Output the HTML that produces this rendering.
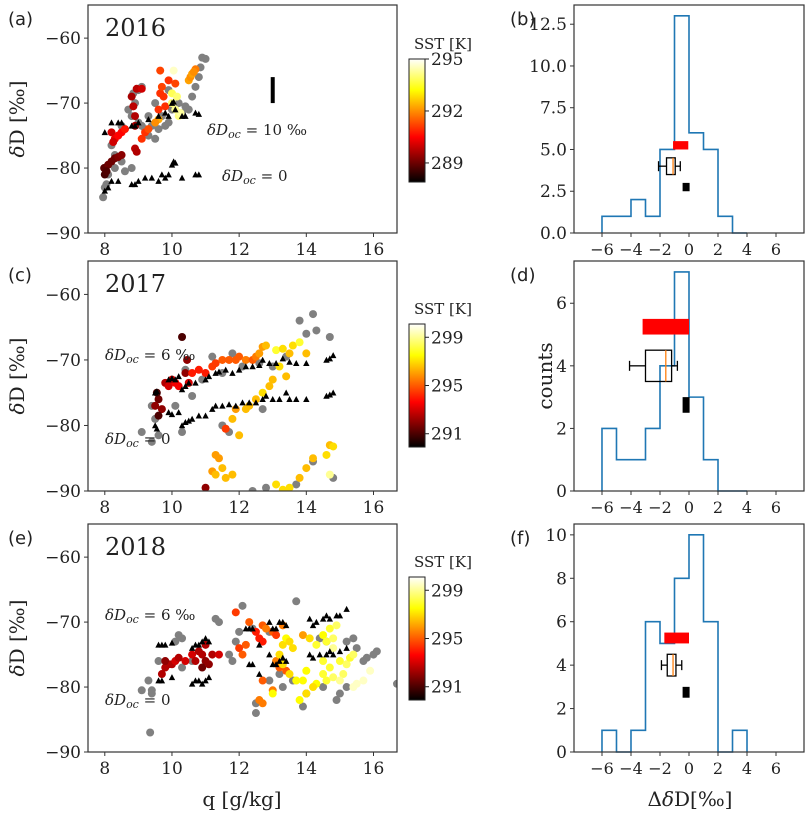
<!DOCTYPE html>
<html><head><meta charset="utf-8"><style>
html,body{margin:0;padding:0;background:#fff;}
svg{display:block;}
text{font-family:"DejaVu Serif","Liberation Serif",serif;fill:#222;}
.lab{font-family:"DejaVu Sans","Liberation Sans",sans-serif;}
</style></head><body>
<svg id="fig" xmlns="http://www.w3.org/2000/svg" width="806" height="817" viewBox="0 0 806 817">
<defs>
<linearGradient id="hot" x1="0" y1="1" x2="0" y2="0">
<stop offset="0" stop-color="#000"/><stop offset="0.365" stop-color="#f00"/><stop offset="0.746" stop-color="#ff0"/><stop offset="1" stop-color="#fff"/>
</linearGradient>
</defs>
</svg>
<script>
// ---------- data ----------
const qTicks=[8,10,12,14,16];
const dTicks=[-60,-70,-80,-90];
const histXTicks=[-6,-4,-2,0,2,4,6];
const binEdges=[-6,-5,-4,-3,-2,-1,0,1,2,3,4];
const countsB=[1,1,2,1,5,13,6,5,1,0];
const countsD=[2,1,1,2,4,7,3,1,0,0];
const countsF=[1,0,1,6,5,8,10,6,0,1];
const yTicksB=[0,2.5,5,7.5,10,12.5];
const yTicksD=[0,2,4,6];
const yTicksF=[0,2,4,6,8,10];
const redBarB=[-1.1,-0.05], redBarD=[-3.2,0], redBarF=[-1.7,0];
const boxB=[-2.1,-1.55,-1.1,-0.95,-0.6];
const boxD=[-4.1,-3.0,-1.6,-1.2,-0.8];
const boxF=[-1.9,-1.5,-1.1,-0.9,-0.5];
const blackMarkB=-0.2, blackMarkD=-0.2, blackMarkF=-0.2;

const gray2016=[[7.95,-84.5],[8.0,-83],[8.05,-82.5],[8.1,-81],[8.3,-80],[8.5,-79],[8.6,-80.5],[8.8,-80],[8.2,-76.5],[8.4,-75],[8.6,-74],[8.8,-72],[8.9,-70],[8.85,-68.5],[9.0,-68],[9.1,-67.5],[9.0,-73],[9.2,-74],[9.3,-75],[9.5,-75.5],[9.6,-74],[9.8,-73.5],[9.9,-73],[9.7,-72],[10.0,-71],[10.2,-70],[10.3,-71.5],[10.5,-71],[10.6,-69],[10.7,-67.5],[10.8,-66],[10.85,-64.5],[10.9,-63],[11.0,-63.2],[9.9,-68],[9.5,-70],[9.3,-72],[8.5,-73.5],[8.3,-78],[8.0,-80],[8.7,-71],[9.1,-73.5],[9.4,-73.5],[10.4,-70.5]];
const obs2016=[[7.98,-80,288.8],[8.0,-81,288.6],[8.1,-79.5,289],[8.2,-79,289],[8.3,-78.5,289],[8.4,-78.3,289.2],[8.5,-78,289.3],[8.05,-80.5,288.7],[8.2,-74.5,290],[8.3,-75.5,290.3],[8.4,-75,290.5],[8.5,-74.5,290.5],[8.6,-74,290.7],[8.25,-76,290],[8.8,-69,289.6],[8.85,-70.5,289.8],[8.9,-72,289.7],[8.9,-73.5,289.6],[8.95,-67.8,289.8],[9.1,-67.8,290],[8.9,-77,289.8],[8.95,-77.5,289.7],[9.1,-75.5,291],[9.2,-74.5,291],[9.3,-74,291.3],[9.6,-71,291],[9.65,-68.5,291],[9.7,-67.5,291.2],[9.75,-69,291],[9.8,-70.5,291],[9.65,-65,291.2],[9.9,-66.5,291],[10.1,-67,291.2],[10.0,-68.5,293.8],[10.05,-65,294.6],[10.0,-70,294],[10.1,-71,294.2],[10.2,-72,294.1],[10.25,-71.5,294.3],[10.15,-69,294],[10.5,-66.5,292.2],[10.55,-66,292],[10.6,-65.5,292.2],[10.7,-64.8,291.8],[10.65,-65.2,292],[9.6,-72.5,292.3],[9.5,-73,292]];
const tri2016=[[8.0,-74.5],[8.2,-73],[8.4,-73],[8.5,-73],[8.8,-73.5],[8.9,-73.5],[9.0,-73],[9.3,-72.5],[9.6,-72],[9.8,-71.5],[9.9,-72],[10.0,-70],[10.05,-69.8],[10.1,-71],[10.3,-72],[10.4,-72],[10.7,-71.5],[10.8,-71.7],[8.0,-83.5],[8.1,-83],[8.2,-82],[8.4,-82],[8.8,-82.5],[8.9,-82.5],[9.0,-82],[9.2,-81.5],[9.4,-81.5],[9.6,-82],[9.7,-81],[9.8,-81.5],[9.9,-81],[10.0,-79.5],[10.05,-79],[10.1,-79.2],[10.3,-81.5],[10.7,-81],[10.8,-81]];

const gray2017=[[9.1,-81],[9.4,-77],[9.5,-79],[9.4,-82.5],[9.6,-81.5],[10.3,-81],[10.1,-77],[10.4,-71.5],[10.6,-75.5],[10.9,-73],[11.2,-69.5],[11.5,-72],[11.8,-69],[12.1,-71],[12.6,-70.5],[13.0,-71],[13.4,-69.5],[13.8,-64],[14.2,-63],[14.0,-66],[14.3,-65.5],[14.7,-66.5],[14.8,-88],[14.2,-85.5],[13.7,-89],[12.8,-89.5],[12.4,-90],[11.7,-81],[12.7,-77.5],[11.5,-80]];
const obs2017=[[9.6,-76,291.5],[9.5,-77,292],[9.7,-77.5,292],[9.6,-78.5,291],[9.55,-75,291],[9.8,-73.5,292.5],[9.9,-74,293],[10.0,-73,293],[10.1,-73.5,293.5],[10.2,-74,293.5],[10.3,-66.5,291],[10.45,-70,292],[10.4,-72,292],[10.5,-73.5,293],[10.6,-72,294],[10.8,-71.5,294],[11.0,-72,294],[11.2,-71,294.5],[11.3,-70.5,294.5],[11.5,-70,295],[11.7,-70,295],[11.9,-70,295],[12.0,-69.5,295],[12.2,-70,295.5],[12.4,-70,295],[12.5,-69.5,295.5],[12.6,-69,296],[12.7,-68,296],[12.8,-67.8,296.5],[13.1,-68.5,298],[13.3,-68.3,297],[13.5,-69,296.5],[13.6,-67.8,297],[13.8,-67.3,298],[14.0,-69,296.5],[13.2,-71,297],[13.4,-72.5,296.5],[13.0,-73,296.5],[12.9,-74,296.5],[12.7,-75,297],[12.5,-76,296.5],[12.3,-77,296.5],[12.2,-77.5,296.5],[11.9,-77.5,296],[11.8,-79,296.5],[11.6,-80.5,294.5],[12.0,-81.5,296.5],[11.3,-84.5,296],[11.4,-85,296],[11.2,-87,296],[11.3,-87.5,296.5],[11.5,-86.5,296.5],[11.6,-88,296.5],[11.8,-87.5,296.5],[11.0,-89.5,292],[13.1,-89,297],[13.3,-89.8,297],[13.5,-89.5,297],[13.8,-88,296.5],[14.0,-86.5,296.5],[14.2,-85,296.5],[14.6,-84.5,297],[14.7,-83,296.5],[14.8,-83.2,297],[14.7,-87.5,299]];
const tri2017=[[9.5,-75],[9.55,-74.8],[9.9,-73],[10.0,-72.8],[10.1,-73],[10.2,-72.5],[10.3,-74.5],[10.4,-74],[10.5,-73.5],[10.7,-73.5],[11.0,-73],[11.1,-72.5],[11.3,-72],[11.4,-71.8],[11.6,-71.5],[11.8,-72],[12.0,-71.5],[12.2,-71],[12.4,-71],[12.6,-70.8],[12.7,-70],[12.9,-70.5],[13.1,-70.5],[13.3,-69.8],[13.5,-70.3],[13.7,-70.5],[14.0,-70.5],[14.6,-70],[14.7,-69.8],[14.8,-69.3],[9.5,-80],[9.55,-80.5],[9.9,-78],[10.0,-78.3],[10.2,-78],[10.3,-80],[10.4,-79.5],[10.5,-79.3],[10.6,-79],[10.8,-78.5],[11.0,-78.5],[11.2,-77.5],[11.3,-77],[11.5,-77],[11.7,-76.8],[11.9,-77],[12.1,-76.5],[12.3,-76.5],[12.5,-76.5],[12.7,-76],[12.8,-75.5],[13.0,-76],[13.2,-76],[13.4,-75],[13.5,-76],[13.7,-76],[14.0,-76],[14.6,-75.5],[14.7,-75.3],[14.8,-75]];

const gray2018=[[9.1,-80.5],[9.3,-79],[9.4,-80.5],[9.4,-81],[9.35,-87],[9.6,-76],[10.2,-72],[10.3,-72.5],[10.1,-73],[10.6,-76],[10.3,-77],[11.3,-69.5],[11.4,-70],[11.7,-75],[11.9,-73],[11.8,-76],[12.1,-67.5],[12.0,-71.5],[12.4,-71],[12.9,-71.5],[13.3,-80],[12.5,-84],[12.5,-82.5],[12.9,-79],[13.2,-78],[13.7,-66.8],[13.6,-79],[13.9,-83],[14.0,-81],[14.4,-72.5],[14.6,-73],[15.0,-81],[14.5,-80],[15.2,-73],[15.4,-72.5],[15.5,-74],[15.7,-76],[15.8,-75.5],[16.0,-75],[16.1,-74.5],[16.7,-79.5],[14.9,-82],[15.2,-80]];
const obs2018=[[9.7,-78,292.5],[9.8,-77,292.5],[9.9,-76.5,292.5],[9.8,-76,292],[10.0,-76.5,292.5],[10.1,-76,293],[10.2,-75.5,292.5],[10.4,-76,293],[10.6,-75,293],[10.8,-74.5,292.5],[10.9,-75,292.5],[11.0,-76,292],[10.9,-77,291.5],[11.1,-76.5,292],[11.2,-75,292.5],[11.4,-75,293],[10.7,-76,292.5],[11.0,-73.5,292.5],[12.0,-74,294.5],[12.2,-73.5,295],[12.1,-75,295],[12.3,-70,295],[11.9,-68.5,294.5],[12.5,-71.5,294],[12.7,-73,294],[12.6,-72.5,294],[12.7,-70.5,295],[12.8,-71,295.5],[13.0,-71.5,295],[13.1,-72,294.5],[13.3,-70.5,295.5],[12.7,-79,295],[12.6,-82,295.5],[12.7,-82.5,295.5],[13.0,-80.5,295.5],[13.2,-77,295],[13.4,-77.5,295],[13.1,-76,295.5],[13.2,-75,297],[13.3,-73.5,297],[13.4,-72.5,297.5],[13.5,-73,297],[13.6,-74,297],[13.3,-76.5,297],[13.5,-78,297],[13.7,-79,297.5],[13.0,-81,297.5],[13.9,-79,297.5],[14.0,-77.5,297.5],[14.3,-79.5,297.5],[14.0,-81,297],[14.2,-80,297],[13.8,-82,297.5],[13.9,-72,296],[14.1,-72.5,297],[14.3,-73.5,298],[14.5,-72,297.5],[14.6,-73,298],[14.7,-71,298],[14.9,-70.5,298.5],[14.8,-72.5,298.5],[14.5,-76,298],[14.7,-77,298],[14.5,-78,298],[14.6,-79,298],[14.8,-78.5,298.5],[15.0,-76,298],[15.2,-76.5,298.5],[15.3,-75.5,298],[15.4,-75,298.5],[15.1,-78,298.5],[15.0,-79,299],[15.4,-80,299.5],[15.5,-79.5,299.5],[15.7,-79,299.5],[15.9,-77.5,299.5],[14.8,-74,299]];
const tri2018=[[9.6,-73.5],[9.7,-73.5],[9.8,-73.5],[10.0,-73.2],[9.6,-79],[9.7,-79],[10.0,-78.5],[10.6,-74],[10.7,-73.5],[10.8,-73.5],[10.9,-73],[11.0,-72.5],[11.1,-73],[10.6,-79.5],[10.7,-79],[10.8,-79],[10.9,-79.5],[11.0,-79],[11.1,-78.5],[12.2,-71],[12.3,-71],[12.4,-71],[12.3,-76.5],[12.4,-76.5],[12.6,-73.5],[12.6,-78],[12.9,-70],[13.0,-71],[13.1,-71],[13.2,-70],[13.3,-70],[13.4,-70.5],[12.9,-75],[13.0,-76.5],[13.1,-76.5],[13.2,-76],[13.3,-75.5],[13.4,-76],[14.1,-69.5],[14.2,-70.5],[14.3,-70],[14.5,-69.5],[14.6,-69],[14.7,-69.5],[14.9,-69],[15.0,-69],[15.2,-68],[14.1,-75],[14.2,-75.5],[14.4,-75],[14.6,-75],[14.7,-74.5],[14.8,-75],[15.0,-74.5],[15.2,-74]];

const sstTicks2016=[289,292,295], sstRange2016=[287.9,295.0];
const sstTicks1718=[291,295,299], sstRange1718=[289.9,300.1];

// ---------- helpers ----------
const NS='http://www.w3.org/2000/svg';
const svg=document.getElementById('fig');
function mk(tag,attrs,parent,txt){const e=document.createElementNS(NS,tag);for(const k in attrs)e.setAttribute(k,attrs[k]);if(txt!==undefined)e.textContent=txt;(parent||svg).appendChild(e);return e;}
function lin(d0,d1,r0,r1){return v=>r0+(v-d0)*(r1-r0)/(d1-d0);}
function hot(t){t=Math.max(0,Math.min(1,t));const r=Math.min(1,t/0.365),g=Math.max(0,Math.min(1,(t-0.365)/0.381)),b=Math.max(0,Math.min(1,(t-0.746)/0.254));return `rgb(${Math.round(r*255)},${Math.round(g*255)},${Math.round(b*255)})`;}

const rows=[{top:5,bot:233},{top:261,bot:491},{top:524,bot:752}];
const SX0=88,SX1=397,HX0=574,HX1=804;

function scatterPanel(ri,letter,year,gray,obs,tri,sstR,sstT,texts,showXLabel){
  const r=rows[ri];
  const g=mk('g',{},svg);
  
  
  const x=lin(7.5,16.7,SX0,SX1), y=lin(-90,-54.9,r.bot,r.top);
  mk('defs',{},g).innerHTML=`<clipPath id="clip${ri}"><rect x="${SX0}" y="${r.top}" width="${SX1-SX0}" height="${r.bot-r.top}"/></clipPath>`;
  const pg=mk('g',{'clip-path':`url(#clip${ri})`},g);
  gray.forEach(p=>{const c=mk('circle',{cx:x(p[0]),cy:y(p[1]),r:4,fill:'#808080'},pg);
    
    });
  obs.forEach(p=>{const c=mk('circle',{cx:x(p[0]),cy:y(p[1]),r:4,fill:hot((p[2]-sstR[0])/(sstR[1]-sstR[0]))},pg);
    
    });
  tri.forEach(p=>{const cx=x(p[0]),cy=y(p[1]);const t=mk('polygon',{points:`${cx-3.2},${cy+2.8} ${cx+3.2},${cy+2.8} ${cx},${cy-3.2}`,fill:'#000'},pg);
    
    });
  mk('rect',{x:SX0,y:r.top,width:SX1-SX0,height:r.bot-r.top,fill:'none',stroke:'#333','stroke-width':1.2},g);
  qTicks.forEach(v=>{mk('line',{x1:x(v),x2:x(v),y1:r.bot,y2:r.bot+4,stroke:'#333'},g);
    const t=mk('text',{x:x(v),y:r.bot+22,'text-anchor':'middle','font-size':17},g,String(v));
    
    });
  dTicks.forEach(v=>{mk('line',{x1:SX0-4,x2:SX0,y1:y(v),y2:y(v),stroke:'#333'},g);
    const t=mk('text',{x:SX0-7,y:y(v)+6,'text-anchor':'end','font-size':17},g,'\u2212'+Math.abs(v));
    
    });
  const yl=mk('text',{x:0,y:0,transform:`translate(24,${(r.top+r.bot)/2}) rotate(-90)`,'text-anchor':'middle','font-size':20},g);
  yl.innerHTML='<tspan font-style="italic">δ</tspan>D [‰]';
  
  
  const pl=mk('text',{x:8,y:r.top+20,'font-size':18,class:'lab'},g,`(${letter})`);
  
  
  const yt=mk('text',{x:105,y:r.top+31,'font-size':24},g,String(year));
  
  
  texts.forEach(tt=>{const t=mk('text',{x:tt[0],y:tt[1],'font-size':15},g);
    t.innerHTML=`<tspan font-style="italic">δD</tspan><tspan font-style="italic" font-size="11" dy="3">oc</tspan><tspan dy="-3"> = ${tt[2]}</tspan>`;
    
    });
  const cy0=[59,324,577][ri], cy1=[182,447,700][ri];
  const cb=mk('g',{},g);
  
  
  mk('rect',{x:409,y:cy0,width:16,height:cy1-cy0,fill:'url(#hot)',stroke:'#222','stroke-width':1},cb);
  const cs=lin(sstR[0],sstR[1],cy1,cy0);
  sstT.forEach(v=>{mk('line',{x1:425,x2:429,y1:cs(v),y2:cs(v),stroke:'#222'},cb);
    const t=mk('text',{x:431,y:cs(v)+6,'font-size':17},cb,String(v));
    
    });
  const ct=mk('text',{x:414,y:cy0-10,'font-size':15},cb,'SST [K]');
  
  
  if(showXLabel){const xl=mk('text',{x:242,y:806,'text-anchor':'middle','font-size':20},g,'q [g/kg]');
    
    }
  return {x,y,g};
}

function histPanel(ri,letter,counts,ymax,yT,fmt,redBar,box,bm,showXLabel){
  const r=rows[ri];
  const g=mk('g',{},svg);
  
  
  const x=lin(-7.93,7.93,HX0,HX1), y=lin(0,ymax,r.bot,r.top);
  let d=`M${x(binEdges[0])},${y(0)}`;
  counts.forEach((c,i)=>{d+=` L${x(binEdges[i])},${y(c)} L${x(binEdges[i+1])},${y(c)}`;});
  d+=` L${x(binEdges[binEdges.length-1])},${y(0)}`;
  const h=mk('path',{d,fill:'none',stroke:'#1f77b4','stroke-width':1.6},g);
  
  
  const rb=mk('rect',{x:x(redBar[0]),y:y(5.5),width:x(redBar[1])-x(redBar[0]),height:y(5)-y(5.5),fill:'#f00'},g);
  
  
  const bg=mk('g',{stroke:'#000','stroke-width':1.3,fill:'none'},g);
  
  
  mk('line',{x1:x(box[0]),x2:x(box[1]),y1:y(4),y2:y(4)},bg);
  mk('line',{x1:x(box[3]),x2:x(box[4]),y1:y(4),y2:y(4)},bg);
  const cap=5;
  mk('line',{x1:x(box[0]),x2:x(box[0]),y1:y(4)-cap,y2:y(4)+cap},bg);
  mk('line',{x1:x(box[4]),x2:x(box[4]),y1:y(4)-cap,y2:y(4)+cap},bg);
  mk('rect',{x:x(box[1]),y:y(4.5),width:x(box[3])-x(box[1]),height:y(3.5)-y(4.5)},bg);
  mk('line',{x1:x(box[2]),x2:x(box[2]),y1:y(4.5),y2:y(3.5),stroke:'#ff7f0e'},bg);
  const bk=mk('rect',{x:x(bm)-3.5,y:y(3),width:7,height:y(2.5)-y(3),fill:'#000'},g);
  
  
  mk('rect',{x:HX0,y:r.top,width:HX1-HX0,height:r.bot-r.top,fill:'none',stroke:'#333','stroke-width':1.2},g);
  histXTicks.forEach(v=>{mk('line',{x1:x(v),x2:x(v),y1:r.bot,y2:r.bot+4,stroke:'#333'},g);
    const t=mk('text',{x:x(v),y:r.bot+22,'text-anchor':'middle','font-size':16},g,v<0?'\u2212'+Math.abs(v):String(v));
    
    });
  yT.forEach(v=>{mk('line',{x1:HX0-4,x2:HX0,y1:y(v),y2:y(v),stroke:'#333'},g);
    const t=mk('text',{x:HX0-7,y:y(v)+6,'text-anchor':'end','font-size':17},g,fmt(v));
    
    });
  const pl=mk('text',{x:510,y:r.top+20,'font-size':18,class:'lab'},g,`(${letter})`);
  
  
  if(showXLabel){const xl=mk('text',{x:690,y:806,'text-anchor':'middle','font-size':20},g);
    xl.innerHTML='Δ<tspan font-style="italic">δ</tspan>D[‰]';
    
    }
}

const s1=scatterPanel(0,'a',2016,gray2016,obs2016,tri2016,sstRange2016,sstTicks2016,[[207,135,'10 ‰'],[222,181,'0']],false);
const bar=mk('line',{x1:s1.x(13),x2:s1.x(13),y1:s1.y(-66),y2:s1.y(-70),stroke:'#000','stroke-width':4});


scatterPanel(1,'c',2017,gray2017,obs2017,tri2017,sstRange1718,sstTicks1718,[[105,360,'6 ‰'],[105,444,'0']],false);
scatterPanel(2,'e',2018,gray2018,obs2018,tri2018,sstRange1718,sstTicks1718,[[105,620,'6 ‰'],[105,705,'0']],true);

histPanel(0,'b',countsB,13.65,yTicksB,v=>v.toFixed(1),redBarB,boxB,blackMarkB,false);
histPanel(1,'d',countsD,7.35,yTicksD,v=>String(v),redBarD,boxD,blackMarkD,false);
histPanel(2,'f',countsF,10.5,yTicksF,v=>String(v),redBarF,boxF,blackMarkF,true);
const cl=mk('text',{x:0,y:0,transform:'translate(552,376) rotate(-90)','text-anchor':'middle','font-size':20},svg,'counts');


</script>
</body></html>
